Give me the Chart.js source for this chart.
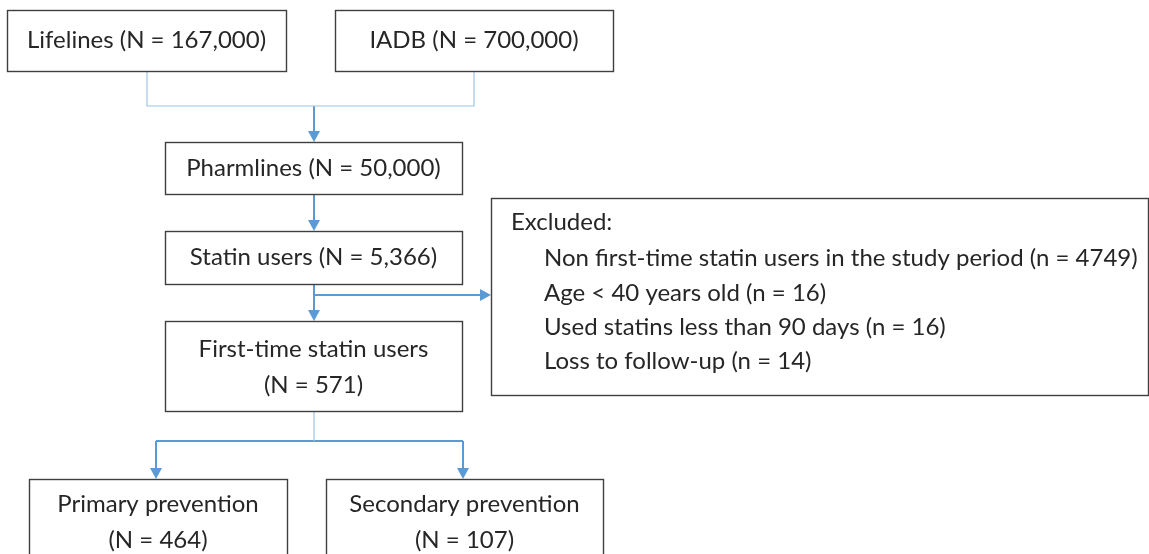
<!DOCTYPE html>
<html>
<head>
<meta charset="utf-8">
<script src="https://cdn.jsdelivr.net/npm/chart.js@4/dist/chart.umd.min.js"></script>
<style>
  html, body { margin: 0; padding: 0; background: #fff; }
  canvas { display: block; }
</style>
</head>
<body>
<canvas id="flow" width="1149" height="554"></canvas>
<script>
// Flow data
const sourceNames = ['Lifelines', 'IADB'];
const sourceCounts = [167000, 700000];
const stepNames = ['Pharmlines', 'Statin users', 'First-time statin users'];
const stepCounts = [50000, 5366, 571];
const excludedReasons = [
    'Non first-time statin users in the study period',
    'Age < 40 years old',
    'Used statins less than 90 days',
    'Loss to follow-up'
];
const excludedCounts = [4749, 16, 16, 14];
const groupNames = ['Primary prevention', 'Secondary prevention'];
const groupCounts = [464, 107];

// Layout (in pixel-like units of the chart's x/y scales)
const boxLayout = [
    { x0: 7,   x1: 286, y0: 10,  y1: 71 },   // Lifelines
    { x0: 335, x1: 613, y0: 10,  y1: 71 },   // IADB
    { x0: 165, x1: 462, y0: 142, y1: 194 },  // Pharmlines
    { x0: 165, x1: 462, y0: 231, y1: 284 },  // Statin users
    { x0: 165, x1: 462, y0: 321, y1: 411 },  // First-time
    { x0: 491, x1: 1148, y0: 198, y1: 395 }, // Excluded
    { x0: 29,  x1: 287, y0: 479, y1: 560 },  // Primary
    { x0: 326, x1: 603, y0: 479, y1: 560 }   // Secondary
];

const fmt = n => n.toLocaleString('en-US');

function boxLines(i) {
    if (i < 2) return [sourceNames[i] + ' (N = ' + fmt(sourceCounts[i]) + ')'];
    if (i < 4) return [stepNames[i - 2] + ' (N = ' + fmt(stepCounts[i - 2]) + ')'];
    if (i === 4) return [stepNames[2], '(N = ' + fmt(stepCounts[2]) + ')'];
    if (i >= 6) return [groupNames[i - 6], '(N = ' + fmt(groupCounts[i - 6]) + ')'];
    return null;
}

const thinBlue = '#9dc3e6';
const arrowBlue = '#5b9bd5';

function seg(points, arrow, thin) {
    return {
        type: 'line',
        data: points.map(p => ({ x: p[0], y: p[1] })),
        borderColor: thin ? thinBlue : arrowBlue,
        borderWidth: thin ? 1.2 : 2,
        pointRadius: 0,
        fill: false,
        tension: 0,
        arrow: arrow
    };
}

const connectors = [
    seg([[147, 71], [147, 106], [474, 106], [474, 71]], false, true),
    seg([[314, 106], [314, 131]], true, false),
    seg([[314, 194], [314, 220]], true, false),
    seg([[314, 284], [314, 310]], true, false),
    seg([[314, 295], [480, 295]], true, false),
    seg([[314, 411], [314, 441]], false, true),
    seg([[156, 441], [463, 441]], false, false),
    seg([[156, 441], [156, 468]], true, false),
    seg([[463, 441], [463, 468]], true, false)
];

const boxPlugin = {
    id: 'boxes',
    afterDatasetsDraw(chart) {
        const ctx = chart.ctx;
        const xs = chart.scales.x, ys = chart.scales.y;
        ctx.save();

        // arrow heads
        chart.data.datasets.forEach(ds => {
            if (!ds.arrow) return;
            const a = ds.data[ds.data.length - 2], b = ds.data[ds.data.length - 1];
            const ax = xs.getPixelForValue(a.x), ay = ys.getPixelForValue(a.y);
            const bx = xs.getPixelForValue(b.x), by = ys.getPixelForValue(b.y);
            const ang = Math.atan2(by - ay, bx - ax);
            const len = 11, half = 6;
            ctx.fillStyle = arrowBlue;
            ctx.beginPath();
            const tx = bx + Math.cos(ang) * len, ty = by + Math.sin(ang) * len;
            ctx.moveTo(tx, ty);
            ctx.lineTo(bx - Math.sin(ang) * half, by + Math.cos(ang) * half);
            ctx.lineTo(bx + Math.sin(ang) * half, by - Math.cos(ang) * half);
            ctx.closePath();
            ctx.fill();
        });

        // boxes
        ctx.strokeStyle = '#3f3f3f';
        ctx.lineWidth = 1.4;
        ctx.fillStyle = '#262626';
        ctx.font = '24px Lato, "Open Sans", sans-serif';
        ctx.textBaseline = 'middle';
        boxLayout.forEach((b, i) => {
            const x0 = xs.getPixelForValue(b.x0), x1 = xs.getPixelForValue(b.x1);
            const y0 = ys.getPixelForValue(b.y0), y1 = ys.getPixelForValue(b.y1);
            ctx.strokeRect(Math.round(x0) + 0.5, Math.round(y0) + 0.5, Math.round(x1 - x0), Math.round(y1 - y0));
            const lines = boxLines(i);
            if (lines) {
                ctx.textAlign = 'center';
                const cx = (x0 + x1) / 2;
                if (lines.length === 1) {
                    ctx.fillText(lines[0], cx, (y0 + y1) / 2);
                } else {
                    const top = i === 4 ? ys.getPixelForValue(349) : ys.getPixelForValue(504);
                    ctx.fillText(lines[0], cx, top);
                    ctx.fillText(lines[1], cx, top + 36);
                }
            }
        });

        // excluded box text
        ctx.textAlign = 'left';
        ctx.fillText('Excluded:', xs.getPixelForValue(511), ys.getPixelForValue(222));
        const rowY = [258, 293, 327, 361];
        excludedReasons.forEach((r, k) => {
            ctx.fillText(r + ' (n = ' + excludedCounts[k] + ')', xs.getPixelForValue(544), ys.getPixelForValue(rowY[k]));
        });
        ctx.restore();
    }
};

new Chart(document.getElementById('flow'), {
    type: 'scatter',
    data: { datasets: connectors },
    options: {
        responsive: false,
        animation: false,
        devicePixelRatio: 1,
        layout: { padding: 0 },
        plugins: { legend: { display: false }, tooltip: { enabled: false } },
        scales: {
            x: { type: 'linear', min: 0, max: 1149, display: false },
            y: { type: 'linear', min: 0, max: 554, reverse: true, display: false }
        }
    },
    plugins: [boxPlugin]
});
</script>
</body>
</html>
